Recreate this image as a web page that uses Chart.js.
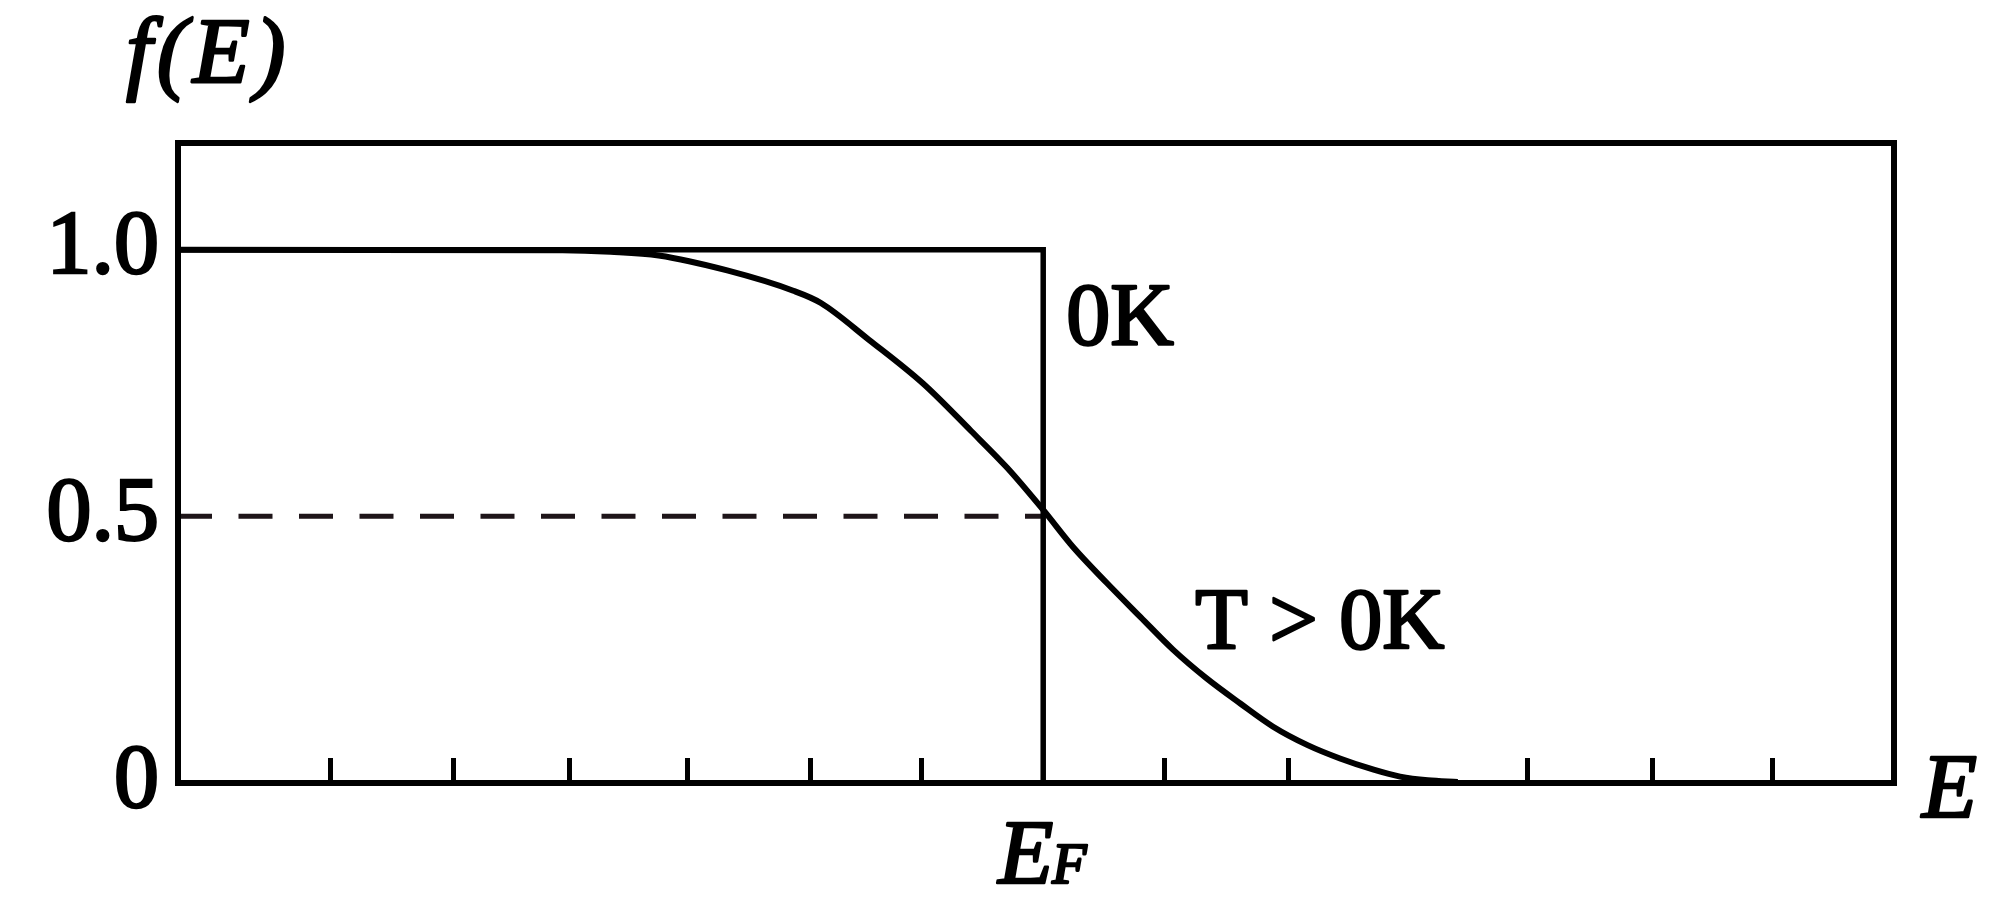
<!DOCTYPE html>
<html>
<head>
<meta charset="utf-8">
<title>f(E)</title>
<script src="https://cdn.jsdelivr.net/npm/chart.js@4.4.1/dist/chart.umd.min.js"></script>
<style>
  html, body { margin: 0; padding: 0; background: #fff; }
  #chartBox { width: 2000px; height: 900px; position: relative; }
</style>
</head>
<body>
<div id="chartBox"><canvas id="myChart"></canvas></div>
<script>
// energy axis in tick units, E_F = 0
let axisMin = -7.2;
let axisMax = 7.08;

let energy0K = [-7.2, 0, 0];
let occupancy0K = [1.0, 1.0, 0];

let energyT = [-7.2, -4.0, -3.6, -3.2, -2.63, -2.08, -1.85, -1.45, -1.0, -0.6, -0.3, 0, 0.25, 0.53, 0.81, 1.08, 1.36, 1.64, 1.91, 2.2, 2.47, 2.75, 2.97, 3.2, 3.45];
let occupancyT = [1.0, 0.999, 0.996, 0.989, 0.961, 0.923, 0.900, 0.831, 0.749, 0.660, 0.591, 0.512, 0.442, 0.375, 0.311, 0.250, 0.196, 0.149, 0.106, 0.071, 0.046, 0.025, 0.012, 0.005, 0.002];

let energyHalf = [-7.2, 0];
let occupancyHalf = [0.5, 0.5];

let xTickValues = [-5.93, -4.91, -3.94, -2.96, -1.94, -1.01, 1.01, 2.04, 4.03, 5.07, 6.07];
let yTickValues = [0, 0.5, 1.0];
let yTickLabels = ['0', '0.5', '1.0'];

const serif = "'Liberation Serif', 'Times New Roman', serif";

function toPoints(xs, ys) {
    let pts = [];
    for (let i = 0; i < xs.length; i++) {
        pts.push({x: xs[i], y: ys[i]});
    }
    return pts;
}

function heavyText(ctx, txt, x, y) {
    ctx.fillText(txt, x, y);
    ctx.strokeText(txt, x, y);
}

const extras = {
    id: 'extras',
    afterDatasetsDraw(chart) {
        let ctx = chart.ctx;
        let a = chart.chartArea;
        let sx = chart.scales.x;
        let sy = chart.scales.y;
        let ef = sx.getPixelForValue(0);
        ctx.save();
        ctx.strokeStyle = '#000';
        ctx.lineWidth = 6;
        ctx.strokeRect(a.left, a.top, a.right - a.left, a.bottom - a.top);

        ctx.fillStyle = '#000';
        ctx.lineWidth = 2.6;
        ctx.lineJoin = 'round';
        ctx.textBaseline = 'alphabetic';
        ctx.textAlign = 'left';

        ctx.font = 'italic 93px ' + serif;
        ctx.letterSpacing = '5px';
        heavyText(ctx, 'f(E)', 126, 82);
        ctx.letterSpacing = '0px';
        ctx.font = 'italic 90px ' + serif;
        heavyText(ctx, 'E', a.right + 28, a.bottom + 34);
        heavyText(ctx, 'E', ef - 45, a.bottom + 100);
        let w = ctx.measureText('E').width;
        ctx.font = 'italic 56px ' + serif;
        heavyText(ctx, 'F', ef - 45 + w - 1, a.bottom + 100);

        ctx.font = '88px ' + serif;
        heavyText(ctx, '0K', ef + 23, sy.getPixelForValue(1.0) + 94);
        ctx.font = '86px ' + serif;
        heavyText(ctx, 'T > 0K', ef + 152, sy.getPixelForValue(0.5) + 132);
        ctx.restore();
    }
};

const ctx = document.getElementById('myChart').getContext('2d');
const myChart = new Chart(ctx, {
    type: 'line',
    data: {
        datasets: [{
            label: '0K',
            data: toPoints(energy0K, occupancy0K),
            borderColor: '#000',
            borderWidth: 5.5,
            borderJoinStyle: 'miter',
            pointRadius: 0
        }, {
            label: 'T > 0K',
            data: toPoints(energyT, occupancyT),
            borderColor: '#000',
            borderWidth: 6,
            cubicInterpolationMode: 'monotone',
            pointRadius: 0
        }, {
            label: '0.5',
            data: toPoints(energyHalf, occupancyHalf),
            borderColor: '#1e1519',
            borderWidth: 5,
            borderDash: [34, 26.5],
            pointRadius: 0
        }]
    },
    options: {
        responsive: true,
        maintainAspectRatio: false,
        animation: false,
        layout: { padding: { top: 143, right: 106, bottom: 0, left: 0 } },
        plugins: {
            legend: { display: false },
            tooltip: { enabled: false }
        },
        scales: {
            x: {
                type: 'linear',
                min: axisMin,
                max: axisMax,
                border: { display: false },
                grid: {
                    drawOnChartArea: false,
                    drawTicks: true,
                    tickLength: -25,
                    tickWidth: 5,
                    tickColor: '#000'
                },
                ticks: { display: false },
                afterBuildTicks: function(scale) {
                    scale.ticks = xTickValues.map(v => ({value: v}));
                },
                afterFit: function(scale) {
                    scale.height = 117;
                }
            },
            y: {
                min: 0,
                max: 1.2,
                border: { display: false },
                grid: { display: false, drawTicks: false },
                ticks: {
                    color: '#000',
                    padding: 19,
                    textStrokeColor: '#000',
                    textStrokeWidth: 2.6,
                    font: { family: serif, size: 90 },
                    callback: function(value, index) {
                        return yTickLabels[index];
                    }
                },
                afterBuildTicks: function(scale) {
                    scale.ticks = yTickValues.map(v => ({value: v}));
                },
                afterFit: function(scale) {
                    scale.width = 178;
                }
            }
        }
    },
    plugins: [extras]
});
</script>
</body>
</html>
